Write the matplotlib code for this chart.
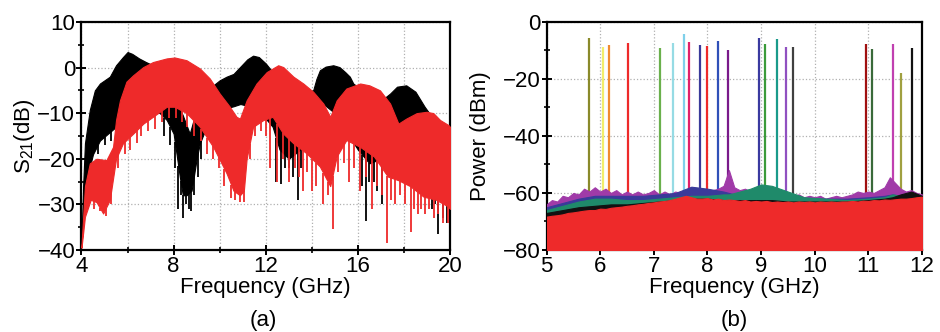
import matplotlib
matplotlib.use("Agg")
import numpy as np
import matplotlib.pyplot as plt
from matplotlib.ticker import MultipleLocator

plt.rcParams['font.family'] = ['Liberation Sans', 'DejaVu Sans']
plt.rcParams['mathtext.fontset'] = 'custom'
plt.rcParams['mathtext.rm'] = 'Liberation Sans'

# ---- panel (a): S21 envelopes ----
black_up_f = [4.0, 4.07, 4.15, 4.36, 4.58, 4.8, 5.23, 5.5, 5.8, 6.0, 6.2, 6.5, 6.8, 7.1, 7.5,
              8.0, 8.4, 8.7, 8.95, 9.3, 9.7, 10.0, 10.3, 10.6, 10.9, 11.2, 11.45, 11.7, 12.0,
              12.3, 12.8, 13.3, 13.7, 14.06, 14.2, 14.35, 14.6, 14.93, 15.2, 15.45, 15.65,
              15.8, 16.2, 16.8, 17.2, 17.4, 17.7, 18.1, 18.5, 18.9, 19.1, 19.5, 20.0]
black_up = [-38, -26, -16.6, -9.3, -5, -3.5, -2, 0.5, 2.3, 3.4, 3.0, 2.0, 1.2, 0.5, -1.5,
            -6, -10.5, -14.5, -10, -6.5, -4, -2.8, -2, -1.4, 0.2, 1.8, 2.6, 2.3, 0.9,
            -1, -3, -4.5, -5.5, -5, -2.5, -0.6, 0.2, 0.5, 0.1, -1, -2,
            -3.5, -5, -6, -6.5, -5.7, -4.2, -3.9, -5.3, -8.6, -10, -12, -14]
black_lo_f = [4.0, 4.2, 4.5, 4.8, 5.5, 6.2, 7.0, 7.4, 7.7, 8.0, 8.27, 8.4, 8.56, 8.78, 9.0,
              9.14, 9.43, 9.72, 10.0, 10.6, 10.9, 11.3, 11.8, 12.3, 12.6, 13.0, 13.5, 13.8,
              14.06, 14.5, 15.0, 15.5, 16.0, 16.5, 17.0, 17.5, 18.0, 18.5, 19.0, 19.5, 20.0]
black_lo = [-39, -25, -19, -16, -13, -11, -9.3, -10, -11.5, -14.5, -24, -28, -28, -27, -20,
            -16.6, -13, -10.8, -9.3, -8.5, -8, -8.5, -10, -13, -18, -20, -18, -10,
            -7, -8, -10, -14, -18, -21, -20, -18, -17, -20, -24, -28, -30]
black_spike_f = [4.4, 4.7, 5.0, 5.3, 7.6, 7.85, 8.05, 8.2, 8.3, 8.4, 8.55, 8.65, 8.75, 8.9,
                 9.05, 9.2, 12.45, 12.65, 12.85, 13.0, 13.2, 13.4, 13.55, 16.2, 16.35, 16.5,
                 16.7, 16.85, 17.05, 18.6, 18.9, 19.2, 19.35, 19.5, 19.7, 19.85]
black_spike = [-22, -19, -17, -16, -15, -17, -22, -31, -28, -33, -30, -31, -31.5, -28,
               -24, -20, -25, -25.5, -22, -22, -24, -29, -22, -26, -33.7, -25,
               -25, -27, -30, -25, -27, -31, -30, -36.5, -33, -34]

red_up_f = [4.0, 4.15, 4.36, 4.65, 5.08, 5.37, 5.5, 5.67, 5.95, 6.24, 6.68, 7.1, 7.7, 8.05,
            8.56, 9.14, 9.57, 10.0, 10.44, 10.73, 10.88, 11.17, 11.6, 12.04, 12.54, 12.76,
            13.2, 13.63, 14.06, 14.5, 14.8, 15.08, 15.5, 16.1, 16.5, 16.96, 17.4, 17.76,
            18.1, 18.55, 18.99, 19.28, 19.57, 19.93, 20.0]
red_up = [-39, -26, -21, -20, -20.3, -17.4, -11.5, -7.2, -3.1, -1.7, 0.1, 1.2, 2.0, 2.2,
          1.6, -0.2, -2.4, -5.7, -8.6, -10.8, -11.2, -7.2, -3.5, -1.0, 0.5, 0.1,
          -2, -3.5, -5.3, -7.9, -10.8, -7.2, -4.6, -3.5, -3.9, -5, -7.9, -12.3,
          -11.2, -10, -9.7, -10, -11.5, -12.6, -13]
red_lo_f = [4.0, 4.15, 4.4, 4.65, 4.94, 5.23, 5.5, 5.8, 6.24, 6.68, 7.1, 7.7, 8.05, 8.56,
            9.14, 9.72, 10.3, 10.6, 10.88, 11.05, 11.17, 11.45, 11.9, 12.3, 12.76, 13.2,
            13.77, 14.35, 14.8, 15.08, 15.5, 16.1, 16.7, 17.3, 17.76, 18.27, 18.85, 19.4,
            19.93, 20.0]
red_lo = [-39.5, -32.7, -29, -29.5, -32, -29, -20, -16.6, -14.5, -12.3, -10.8, -8.6, -8.6, -10,
          -13, -17.4, -23.2, -27, -28, -27, -20, -13, -11.5, -10.8, -14.5, -16.6,
          -18.8, -21.7, -26, -19.5, -15.9, -17.4, -19.5, -23.9, -24.7, -26, -28.3, -29,
          -30.5, -31]
red_spike_f = [4.3, 4.55, 4.8, 5.05, 5.3, 5.6, 5.9, 6.1, 6.4, 6.6, 6.9, 7.2, 7.5, 7.8, 8.1,
               8.35, 8.6, 8.9, 9.2, 9.45, 9.7, 9.95, 10.2, 10.5, 10.65, 10.9, 11.05, 11.3,
               11.55, 11.8, 12.0, 12.2, 12.5, 12.75, 13.0, 13.25, 13.45, 13.6, 13.8, 14.0,
               14.2, 14.5, 14.7, 14.9, 15.15, 15.4, 15.6, 15.85, 16.1, 16.35, 16.6, 16.85,
               17.05, 17.28, 17.45, 17.6, 17.85, 18.05, 18.3, 18.45, 18.6, 18.75, 18.9,
               19.1, 19.3, 19.5, 19.7, 19.9]
red_spike = [-31, -31, -31.5, -32.5, -30, -22, -19, -18, -16.5, -15, -14, -13.5, -12, -11,
             -11, -12, -13, -15, -16, -19, -20, -22, -26, -28.5, -29, -29.5, -29.5, -20,
             -15, -14, -15, -22, -25, -20, -25, -22, -24, -27, -23, -27,
             -26, -30, -28, -35.5, -23, -21, -25, -22, -27, -24, -31, -26,
             -28, -38.5, -29, -30, -28, -30, -36, -31, -32, -31, -32,
             -31, -33, -32, -34, -34]

# ---- panel (b): tones and noise floor ----
tone_f = [5.795, 6.056, 6.16, 6.52, 7.11, 7.35, 7.56, 7.65, 7.86, 8.0, 8.19, 8.39,
          8.96, 9.07, 9.30, 9.47, 9.60, 10.96, 11.07, 11.45, 11.61, 11.82]
tone_p = [-5.8, -8.8, -8.2, -7.4, -9.0, -7.4, -4.4, -7.0, -8.2, -8.4, -6.7, -9.7,
          -5.8, -7.8, -6.1, -8.8, -8.8, -7.9, -9.6, -7.9, -17.9, -9.3]
tone_c = ['#8a8a2a', '#f2ee6a', '#f08a30', '#ee2a2a', '#6ab04c', '#96dbe4', '#7fd0ea',
          '#e0206a', '#3a3a9a', '#ee2a2a', '#3050b8', '#7a1a8a', '#3a3aa0', '#3a9a3a',
          '#1a9a8a', '#9050c0', '#404040', '#a01010', '#3a6a3a', '#c040b0', '#a0a040',
          '#111111']

fine_f = [5.0, 5.1, 5.2, 5.3, 5.4, 5.5, 5.6, 5.7, 5.8, 5.9, 6.0, 6.1, 6.2, 6.3, 6.4, 6.5,
          6.6, 6.7, 6.8, 6.9, 7.0, 7.1, 7.2, 7.3, 7.4, 7.5, 7.6, 7.7, 7.8, 7.9, 8.0, 8.1,
          8.2, 8.3, 8.4, 8.5, 8.6, 8.7, 8.8, 8.9, 9.0, 9.1, 9.2, 9.3, 9.4, 9.5, 9.6, 9.7,
          9.8, 9.9, 10.0, 10.1, 10.2, 10.3, 10.4, 10.5, 10.6, 10.7, 10.8, 10.9, 11.0, 11.1,
          11.2, 11.3, 11.4, 11.5, 11.6, 11.7, 11.8, 11.9, 12.0]
noise_magenta = [-64, -62.5, -63, -61, -61.5, -60, -60.5, -58.5, -59.5, -58, -59.5, -58.5,
                 -60, -59, -60.5, -59.5, -60.5, -59.5, -60.5, -60, -59, -60.5, -59.5, -60.5,
                 -59.5, -60, -59, -58, -59.5, -58.5, -59.5, -59, -58.5, -57.5, -52, -58,
                 -59, -58.5, -59.5, -58.5, -59.5, -59, -60, -59.5, -60.5, -60, -61, -60.5,
                 -61.5, -61, -61.5, -61, -62, -61.5, -61, -61.5, -61, -60.5, -59.5, -60,
                 -59.5, -60, -59, -58, -54.5, -56.5, -58.5, -59.5, -59, -60, -60.5]
noise_red = [-68.3, -68, -67.8, -67.5, -67, -66.8, -66.5, -66.2, -66, -66, -65.5, -65.6,
             -65.2, -65, -64.8, -64.5, -64.3, -64, -63.8, -63.5, -63.3, -63, -62.8, -62.5,
             -62, -61.5, -61, -61.5, -62, -62, -61.8, -62.3, -62, -62.5, -62.3, -62.5,
             -62.8, -62.5, -63, -62.8, -63, -62.8, -63.2, -63, -63.2, -63, -63.3, -63,
             -63.2, -63, -63.3, -63, -63.2, -63, -63.2, -63, -63, -62.8, -63, -62.7,
             -62.8, -62.5, -62.6, -62.3, -62.4, -62.2, -62, -62, -61.8, -61.5, -61.3]

noise_f = [5.0, 5.3, 5.6, 5.9, 6.2, 6.5, 6.8, 7.1, 7.4, 7.7, 8.0, 8.3, 8.4, 8.5, 8.8, 9.0,
           9.2, 9.5, 9.8, 10.2, 10.6, 11.0, 11.3, 11.45, 11.6, 11.8, 12.0]
noise_navy = [-65, -63.5, -62, -61, -61, -61, -61, -60.5, -60, -57.8, -58.5, -59.5, -60,
              -60.5, -60, -59, -60.5, -62, -62, -62, -62, -61.5, -61, -60.5, -61, -61, -61.5]
noise_teal = [-66, -64.5, -63, -62, -62, -62.5, -62.5, -62, -61.5, -61, -61, -60.5, -60.5,
              -60, -58.5, -57, -57.5, -59.5, -61.5, -62, -62.5, -62, -61.5, -60.5, -61,
              -61.5, -62]
noise_black = [-67, -66, -65, -64.5, -64, -64, -63.5, -63, -62.5, -62, -62, -62.5, -62.5,
               -62.5, -62.5, -62.5, -62.5, -63, -63, -63, -63, -62.5, -62, -61.5, -60.5,
               -59.5, -61]

RED = '#ee2a2a'
FS = 16

fig = plt.figure(figsize=(9.4, 3.32), dpi=100)
ax1 = fig.add_axes([0.0867, 0.247, 0.392, 0.687])
ax2 = fig.add_axes([0.5814, 0.247, 0.3995, 0.687])

# panel (a)
bf = np.union1d(black_up_f, black_lo_f)
ax1.fill_between(bf, np.interp(bf, black_lo_f, black_lo), np.interp(bf, black_up_f, black_up),
                 color='black', lw=0.8, zorder=2)
ax1.vlines(black_spike_f, black_spike, np.interp(black_spike_f, black_lo_f, black_lo),
           color='black', lw=1.3, zorder=2)
rf = np.union1d(red_up_f, red_lo_f)
ax1.fill_between(rf, np.interp(rf, red_lo_f, red_lo), np.interp(rf, red_up_f, red_up),
                 color=RED, lw=0.8, zorder=3)
ax1.vlines(red_spike_f, red_spike, np.interp(red_spike_f, red_lo_f, red_lo),
           color=RED, lw=1.3, zorder=3)

ax1.set_xlim(4, 20)
ax1.set_ylim(-40, 10)
ax1.xaxis.set_major_locator(MultipleLocator(4))
ax1.xaxis.set_minor_locator(MultipleLocator(2))
ax1.yaxis.set_major_locator(MultipleLocator(10))
ax1.yaxis.set_minor_locator(MultipleLocator(5))
ax1.grid(True, which='major', axis='y', color='#b0b0b0', ls=':', lw=0.9)
ax1.grid(True, which='both', axis='x', color='#b0b0b0', ls=':', lw=0.9)
ax1.set_xlabel('Frequency (GHz)', fontsize=FS, labelpad=0)
ax1.set_ylabel('S$_{21}$(dB)', fontsize=FS, labelpad=0)

# panel (b)
ax2.vlines(tone_f, -80, tone_p, colors=tone_c, lw=1.6, zorder=2)
ax2.fill_between(fine_f, -80, noise_magenta, color='#a03aa8', lw=0.8, zorder=3)
for band, col in [(noise_navy, '#3a3a9a'), (noise_teal, '#1f8a6a'), (noise_black, '#111111')]:
    ax2.fill_between(noise_f, -80, band, color=col, lw=0.8, zorder=3)
ax2.fill_between(fine_f, -80, noise_red, color=RED, lw=0.8, zorder=4)

ax2.set_xlim(5, 12)
ax2.set_ylim(-80, 0)
ax2.xaxis.set_major_locator(MultipleLocator(1))
ax2.yaxis.set_major_locator(MultipleLocator(20))
ax2.yaxis.set_minor_locator(MultipleLocator(10))
ax2.grid(True, which='major', color='#b0b0b0', ls=':', lw=0.9)
ax2.set_xlabel('Frequency (GHz)', fontsize=FS, labelpad=0)
ax2.set_ylabel('Power (dBm)', fontsize=FS, labelpad=8)

for ax in (ax1, ax2):
    ax.set_axisbelow(True)
    for s in ax.spines.values():
        s.set_linewidth(1.6)
    ax.tick_params(which='major', direction='inout', length=7, width=1.4,
                   labelsize=FS, pad=1)
    ax.tick_params(which='minor', direction='inout', length=5, width=1.2)
    ax.tick_params(top=False, right=False)

fig.text(0.28, 0.036, '(a)', ha='center', va='center', fontsize=FS)
fig.text(0.781, 0.036, '(b)', ha='center', va='center', fontsize=FS)

fig.savefig('out.png', dpi=100)
